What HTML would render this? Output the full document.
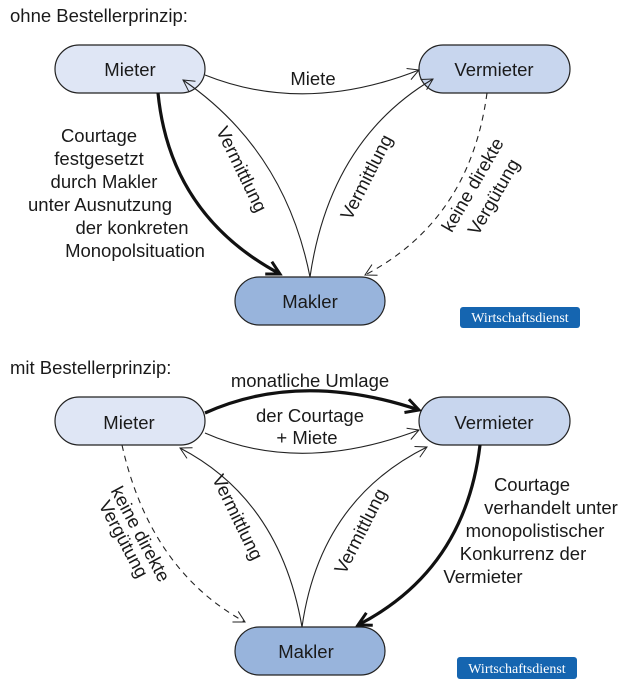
<!DOCTYPE html>
<html><head><meta charset="utf-8"><style>
body{margin:0;background:#fff}
svg{display:block;font-family:"Liberation Sans",sans-serif}
</style></head><body>
<svg width="630" height="687" viewBox="0 0 630 687" xmlns="http://www.w3.org/2000/svg">
<defs>
<marker id="o" markerWidth="14" markerHeight="14" refX="12" refY="7" orient="auto" markerUnits="userSpaceOnUse"><path d="M1,1 L12,7 L1,13" fill="none" stroke="#222" stroke-width="1"/></marker>
<marker id="t" markerWidth="18" markerHeight="18" refX="15" refY="9" orient="auto" markerUnits="userSpaceOnUse"><path d="M2,2 L15,9 L2,16" fill="none" stroke="#111" stroke-width="3"/></marker>
</defs>
<g font-size="18.5" fill="#1a1a1a">
<text x="10" y="22">ohne Bestellerprinzip:</text>
<text x="10" y="374">mit Bestellerprinzip:</text>
</g>
<!-- top -->
<g stroke="#222" stroke-width="1.2">
<rect x="55" y="45" width="150" height="48" rx="24" fill="#dfe6f5"/>
<rect x="419" y="45" width="151" height="48" rx="24" fill="#c8d6ee"/>
<rect x="235" y="277" width="150" height="48" rx="24" fill="#98b4dc"/>
</g>
<g fill="none" stroke="#222" stroke-width="1.1">
<path d="M205,75 Q305,115 419,70" marker-end="url(#o)"/>
<path d="M310,277 Q285,150 183,80" marker-end="url(#o)"/>
<path d="M310,277 Q330,140 433,79" marker-end="url(#o)"/>
<path d="M487,93 Q470,220 365,275" stroke-dasharray="6,5" marker-end="url(#o)"/>
<path d="M158,93 Q170,215 280,274" stroke="#111" stroke-width="3.2" marker-end="url(#t)"/>
</g>
<g font-size="18.5" fill="#1a1a1a" text-anchor="middle">
<text x="130" y="76">Mieter</text>
<text x="494" y="76">Vermieter</text>
<text x="310" y="308">Makler</text>
<text x="313" y="85">Miete</text>
<text x="99" y="142">Courtage</text>
<text x="99" y="165">festgesetzt</text>
<text x="104" y="188">durch Makler</text>
<text x="100" y="211">unter Ausnutzung</text>
<text x="132" y="234">der konkreten</text>
<text x="135" y="257">Monopolsituation</text>
<text transform="translate(236,172) rotate(64)">Vermittlung</text>
<text transform="translate(372,180) rotate(-63)">Vermittlung</text>
<text transform="translate(478,188) rotate(-60)">keine direkte</text>
<text transform="translate(499,200) rotate(-60)">Vergütung</text>
</g>
<rect x="460" y="307" width="120" height="21" rx="3" fill="#1565b0"/>
<text x="520" y="322" font-family="Liberation Serif,serif" font-size="14" fill="#fff" text-anchor="middle">Wirtschaftsdienst</text>
<!-- bottom -->
<g stroke="#222" stroke-width="1.2">
<rect x="55" y="397" width="150" height="48" rx="24" fill="#dfe6f5"/>
<rect x="419" y="397" width="151" height="48" rx="24" fill="#c8d6ee"/>
<rect x="235" y="627" width="150" height="48" rx="24" fill="#98b4dc"/>
</g>
<g fill="none" stroke="#222" stroke-width="1.1">
<path d="M205,433 Q300,475 419,430" marker-end="url(#o)"/>
<path d="M302,627 Q280,500 180,448" marker-end="url(#o)"/>
<path d="M302,627 Q320,500 427,447" marker-end="url(#o)"/>
<path d="M122,445 Q150,570 245,622" stroke-dasharray="6,5" marker-end="url(#o)"/>
<path d="M205,413 Q300,370 419,410" stroke="#111" stroke-width="3.2" marker-end="url(#t)"/>
<path d="M480,445 Q465,570 358,625" stroke="#111" stroke-width="3.2" marker-end="url(#t)"/>
</g>
<g font-size="18.5" fill="#1a1a1a" text-anchor="middle">
<text x="129" y="429">Mieter</text>
<text x="494" y="429">Vermieter</text>
<text x="306" y="658">Makler</text>
<text x="310" y="387">monatliche Umlage</text>
<text x="310" y="422">der Courtage</text>
<text x="307" y="444">+ Miete</text>
<text x="532" y="491">Courtage</text>
<text x="551" y="514">verhandelt unter</text>
<text x="535" y="537">monopolistischer</text>
<text x="523" y="560">Konkurrenz der</text>
<text x="483" y="583">Vermieter</text>
<text transform="translate(232,520) rotate(64)">Vermittlung</text>
<text transform="translate(366,534) rotate(-63)">Vermittlung</text>
<text transform="translate(135,537) rotate(62)">keine direkte</text>
<text transform="translate(118,542) rotate(62)">Vergütung</text>
</g>
<rect x="457" y="657" width="120" height="22" rx="3" fill="#1565b0"/>
<text x="517" y="673" font-family="Liberation Serif,serif" font-size="14" fill="#fff" text-anchor="middle">Wirtschaftsdienst</text>
</svg>
</body></html>
